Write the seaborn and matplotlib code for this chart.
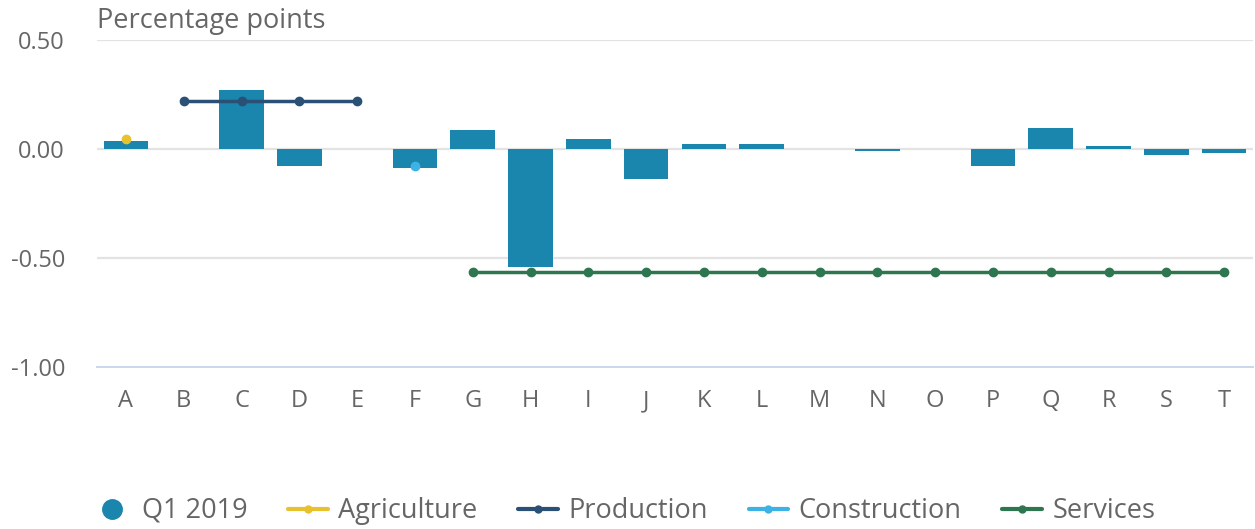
"""Industry contributions, Q1 2019 — bar + sector level lines."""

import matplotlib.pyplot as plt
from matplotlib.lines import Line2D
from matplotlib.ticker import FixedLocator
import seaborn as sns
import pandas as pd

# ── data ──────────────────────────────────────────────
categories = list("ABCDEFGHIJKLMNOPQRST")
q1_2019 = [0.035, 0.0, 0.27, -0.077, 0.0, -0.089, 0.086, -0.54, 0.045, -0.139,
           0.024, 0.024, 0.0, -0.008, 0.0, -0.078, 0.096, 0.014, -0.026, -0.017]

agri_x = ["A"]
agri_y = [0.046]
prod_x = ["B", "C", "D", "E"]
prod_y = [0.22, 0.22, 0.22, 0.22]
cons_x = ["F"]
cons_y = [-0.078]
serv_x = list("GHIJKLMNOPQRST")
serv_y = [-0.562] * len(serv_x)

yticks = [0.5, 0.0, -0.5, -1.0]
ytick_labels = ["0.50", "0.00", "-0.50", "-1.00"]

# ── style ─────────────────────────────────────────────
sns.set_style("white")
plt.rcParams["font.family"] = ["Open Sans", "DejaVu Sans"]

BAR = "#1a85ad"
AGRI = "#e8c12f"
PROD = "#2a5075"
CONS = "#3cb3e4"
SERV = "#2e7650"
TEXT = "#666666"
GRID = "#e3e3e3"
AXIS = "#ccd6eb"
FS = 17
FS_BIG = 19.5

fig = plt.figure(figsize=(12.55, 5.29), dpi=100)
ax = fig.add_axes([97 / 1255, 1 - 367 / 529, (1253 - 97) / 1255, (367 - 40) / 529])

df = pd.DataFrame({"industry": categories, "value": q1_2019})
sns.barplot(data=df, x="industry", y="value", order=categories, color=BAR,
            saturation=1, width=0.77, linewidth=0, ax=ax, zorder=2)


def pos(xs):
    return [categories.index(c) for c in xs]


ax.plot(pos(agri_x), agri_y, color=AGRI, marker="o", markersize=6, lw=2.5, zorder=4)
ax.plot(pos(prod_x), prod_y, color=PROD, marker="o", markersize=6, lw=2.5, zorder=4)
ax.plot(pos(cons_x), cons_y, color=CONS, marker="o", markersize=6, lw=2.5, zorder=4)
ax.plot(pos(serv_x), serv_y, color=SERV, marker="o", markersize=6, lw=2.5, zorder=4)

# axes
ax.set_xlim(-0.5, len(categories) - 0.5)
ax.set_ylim(-1.0, 0.5)
ax.set_yticks(yticks)
ax.set_yticklabels(ytick_labels)
ax.set_xlabel("")
ax.set_ylabel("")
for y in [0.5, 0.0, -0.5]:
    ax.axhline(y, color=GRID, lw=1.6, zorder=0)

for s in ["top", "right", "left"]:
    ax.spines[s].set_visible(False)
ax.spines["bottom"].set_color(AXIS)
ax.spines["bottom"].set_linewidth(1.4)

ax.xaxis.set_minor_locator(FixedLocator([i - 0.5 for i in range(len(categories) + 1)]))
ax.tick_params(axis="x", which="minor", length=14.5, width=1.4, color=AXIS, direction="out")
ax.tick_params(axis="x", which="major", length=0, pad=16, labelsize=FS, labelcolor=TEXT)
ax.tick_params(axis="y", length=0, pad=23, labelsize=FS, labelcolor=TEXT)

fig.text(97 / 1255, 1 - 21 / 529, "Percentage points", fontsize=FS_BIG, color=TEXT,
         ha="left", va="center")

handles = [
    Line2D([], [], color=BAR, marker="o", linestyle="none", markersize=14),
    Line2D([], [], color=AGRI, marker="o", markersize=5, lw=3),
    Line2D([], [], color=PROD, marker="o", markersize=5, lw=3),
    Line2D([], [], color=CONS, marker="o", markersize=5, lw=3),
    Line2D([], [], color=SERV, marker="o", markersize=5, lw=3),
]
labels = ["Q1 2019", "Agriculture", "Production", "Construction", "Services"]
leg = fig.legend(handles, labels, loc="center left", bbox_to_anchor=(92 / 1255, 1 - 511 / 529),
                 ncol=5, frameon=False, fontsize=FS_BIG, handlelength=1.45, handletextpad=0.4,
                 columnspacing=1.5, borderaxespad=0, borderpad=0)
for t in leg.get_texts():
    t.set_color(TEXT)

fig.savefig("out.png", dpi=100)
